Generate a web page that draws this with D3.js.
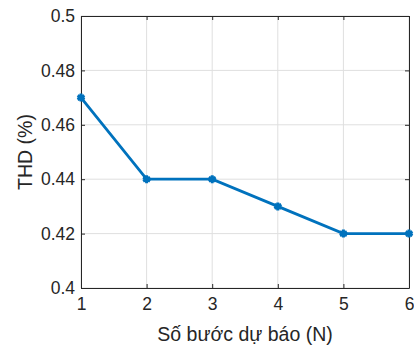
<!DOCTYPE html>
<html><head><meta charset="utf-8">
<script src="https://cdn.jsdelivr.net/npm/d3@7"></script>
<style>body{margin:0;background:#fff}svg{display:block}</style>
</head><body>
<script>
const steps = [1, 2, 3, 4, 5, 6];
const thd = [0.47, 0.44, 0.44, 0.43, 0.42, 0.42];
const xTicks = [1, 2, 3, 4, 5, 6];
const yTicks = [0.4, 0.42, 0.44, 0.46, 0.48, 0.5];
const xLabel = "Số bước dự báo (N)";
const yLabel = "THD (%)";

const W = 414, H = 346;
const m = {l: 81, r: 5, t: 16, b: 58};
const svg = d3.select("body").append("svg").attr("width", W).attr("height", H);
const x = d3.scaleLinear().domain([1, 6]).range([m.l, W - m.r]);
const y = d3.scaleLinear().domain([0.4, 0.5]).range([H - m.b, m.t]);
const font = "'Liberation Sans', Arial, sans-serif";

// grid
const g = svg.append("g");
g.selectAll(".gx").data(xTicks).join("line")
  .attr("x1", d => x(d)).attr("x2", d => x(d)).attr("y1", m.t).attr("y2", H - m.b)
  .attr("stroke", "#dfdfdf").attr("stroke-width", 1);
g.selectAll(".gy").data(yTicks).join("line")
  .attr("y1", d => y(d)).attr("y2", d => y(d)).attr("x1", m.l).attr("x2", W - m.r)
  .attr("stroke", "#dfdfdf").attr("stroke-width", 1);

// axes
const xa = svg.append("g").attr("transform", `translate(0,${H - m.b})`)
  .call(d3.axisBottom(x).tickValues(xTicks).tickFormat(d3.format("d")).tickSizeInner(-4).tickSizeOuter(0).tickPadding(10));
const ya = svg.append("g").attr("transform", `translate(${m.l},0)`)
  .call(d3.axisLeft(y).tickValues(yTicks).tickFormat(d => d === 0.4 ? "0.4" : d === 0.5 ? "0.5" : d3.format(".2f")(d)).tickSizeInner(-4).tickSizeOuter(0).tickPadding(6));
// top/right box
const xt = svg.append("g").attr("transform", `translate(0,${m.t})`)
  .call(d3.axisTop(x).tickValues(xTicks).tickFormat("").tickSizeInner(-4).tickSizeOuter(0));
const yr = svg.append("g").attr("transform", `translate(${W - m.r},0)`)
  .call(d3.axisRight(y).tickValues(yTicks).tickFormat("").tickSizeInner(-4).tickSizeOuter(0));
[xa, ya, xt, yr].forEach(a => {
  a.select(".domain").attr("stroke", "#262626").attr("stroke-width", 1);
  a.selectAll(".tick line").attr("stroke", "#262626");
  a.selectAll("text").attr("fill", "#262626").attr("font-family", font).attr("font-size", 17.5);
});

// line
const c = "#0072BD";
svg.append("path").datum(steps.map((s, i) => [s, thd[i]]))
  .attr("d", d3.line().x(d => x(d[0])).y(d => y(d[1])))
  .attr("fill", "none").attr("stroke", c).attr("stroke-width", 2.8);
svg.selectAll(".mk").data(steps.map((s, i) => [s, thd[i]])).join("path")
  .attr("transform", d => `translate(${x(d[0])},${y(d[1])})`)
  .attr("d", d3.symbol(d3.symbolAsterisk, 45))
  .attr("fill", "none").attr("stroke", c).attr("stroke-width", 3);
svg.selectAll(".mk2").data(steps.map((s, i) => [s, thd[i]])).join("circle")
  .attr("cx", d => x(d[0])).attr("cy", d => y(d[1])).attr("r", 3)
  .attr("fill", c);

// labels
svg.append("text").attr("x", (m.l + W - m.r) / 2).attr("y", 341)
  .attr("text-anchor", "middle").attr("font-family", font).attr("font-size", 19.5).attr("fill", "#262626").text(xLabel);
svg.append("text").attr("transform", `translate(32,${(m.t + H - m.b) / 2}) rotate(-90)`)
  .attr("text-anchor", "middle").attr("font-family", font).attr("font-size", 19.5).attr("fill", "#262626").text(yLabel);
</script>
</body></html>
